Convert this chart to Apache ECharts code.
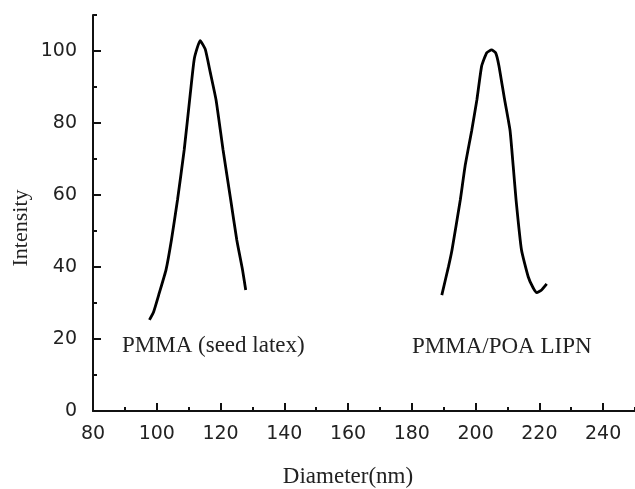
<!DOCTYPE html>
<html>
<head>
<meta charset="utf-8">
<script src="https://cdn.jsdelivr.net/npm/echarts@6/dist/echarts.min.js"></script>
<style>
html,body{margin:0;padding:0;background:#fff;}
#chart{width:635px;height:489px;}
</style>
</head>
<body>
<div id="chart"></div>
<script>
// Data
const seedLatexX = [97.7, 99.0, 100.8, 102.9, 104.6, 106.5, 108.6, 110.5, 111.8, 113.6, 115.2, 116.8, 118.6, 120.8, 123.2, 125.1, 126.9, 127.9];
const seedLatexY = [25.3, 27.5, 32.8, 39.2, 47.5, 58.6, 72.5, 88.0, 98.0, 102.9, 100.5, 94.0, 86.4, 72.5, 58.6, 47.5, 39.2, 33.6];
const lipnX = [189.4, 191.5, 192.6, 195.2, 196.7, 198.8, 200.4, 201.9, 203.5, 205.0, 206.3, 207.3, 209.0, 210.8, 211.8, 212.7, 214.4, 216.5, 218.0, 219.2, 220.7, 222.3];
const lipnY = [32.2, 40.1, 44.7, 58.6, 68.0, 78.0, 86.4, 95.8, 99.5, 100.3, 99.5, 96.0, 87.0, 78.0, 68.0, 58.6, 44.7, 37.3, 34.3, 32.9, 33.6, 35.3];
const xMajorTicks = [80, 100, 120, 140, 160, 180, 200, 220, 240];
const yMajorTicks = [0, 20, 40, 60, 80, 100];
const labelSeed = 'PMMA (seed latex)';
const labelLipn = 'PMMA/POA LIPN';
const xTitle = 'Diameter(nm)';
const yTitle = 'Intensity';

const pair = (xs, ys) => xs.map((x, i) => [x, ys[i]]);

const chart = echarts.init(document.getElementById('chart'), null, {renderer: 'canvas'});
const tickFont = {fontFamily: 'DejaVu Sans', fontSize: 19, color: '#222'};
const option = {
  backgroundColor: '#fff',
  animation: false,
  grid: {left: 93, top: 15, width: 544, height: 396, containLabel: false},
  xAxis: [
    {
      type: 'value', min: 80, max: 250, interval: 10,
      axisLine: {show: true, onZero: false, lineStyle: {color: '#111', width: 2}},
      axisTick: {show: true, inside: true, length: 4, lineStyle: {color: '#111', width: 2}},
      axisLabel: {show: false},
      splitLine: {show: false}
    },
    {
      type: 'value', min: 80, max: 250, interval: 20, position: 'bottom',
      axisLine: {show: false},
      axisTick: {show: true, inside: true, length: 8, customValues: xMajorTicks, lineStyle: {color: '#111', width: 2}},
      axisLabel: Object.assign({show: true, margin: 14, customValues: xMajorTicks}, tickFont),
      splitLine: {show: false}
    }
  ],
  yAxis: [
    {
      type: 'value', min: 0, max: 110, interval: 10,
      axisLine: {show: true, onZero: false, lineStyle: {color: '#111', width: 2}},
      axisTick: {show: true, inside: true, length: 4, lineStyle: {color: '#111', width: 2}},
      axisLabel: {show: false},
      splitLine: {show: false}
    },
    {
      type: 'value', min: 0, max: 110, interval: 20, position: 'left',
      axisLine: {show: false},
      axisTick: {show: true, inside: true, length: 8, customValues: yMajorTicks, lineStyle: {color: '#111', width: 2}},
      axisLabel: Object.assign({show: true, margin: 16, customValues: yMajorTicks}, tickFont),
      splitLine: {show: false}
    }
  ],
  series: [
    {
      name: labelSeed, type: 'line', data: pair(seedLatexX, seedLatexY),
      showSymbol: false, smooth: 0.15,
      lineStyle: {color: '#000', width: 2.8}
    },
    {
      name: labelLipn, type: 'line', data: pair(lipnX, lipnY),
      showSymbol: false, smooth: 0.15,
      lineStyle: {color: '#000', width: 2.8}
    }
  ],
  graphic: [
    {type: 'text', x: 122, y: 346, style: {text: labelSeed, font: '23px "Liberation Serif"', fill: '#222', textAlign: 'left', textVerticalAlign: 'middle'}},
    {type: 'text', x: 412, y: 347, style: {text: labelLipn, font: '23px "Liberation Serif"', fill: '#222', textAlign: 'left', textVerticalAlign: 'middle'}},
    {type: 'text', x: 348, y: 477, style: {text: xTitle, font: '23px "Liberation Serif"', fill: '#222', textAlign: 'center', textVerticalAlign: 'middle'}},
    {type: 'text', x: 21, y: 228, rotation: Math.PI / 2, style: {text: yTitle, font: '22px "Liberation Serif"', fill: '#222', textAlign: 'center', textVerticalAlign: 'middle'}}
  ]
};
chart.setOption(option);
</script>
</body>
</html>
